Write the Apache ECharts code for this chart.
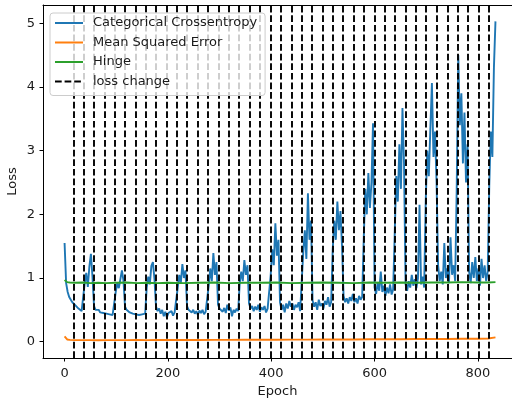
<!DOCTYPE html>
<html>
<head>
<meta charset="utf-8">
<script src="https://cdn.jsdelivr.net/npm/echarts@6/dist/echarts.min.js"></script>
<style>
  html, body { margin: 0; padding: 0; background: #fff; }
  #chart { width: 512px; height: 400px; }
</style>
</head>
<body>
<div id="chart"></div>
<script>
// Categorical crossentropy loss, one value every 3 epochs (epoch 0 .. 834)
const ccStep = 3;
const ccValues = [
  1.55, 0.92, 0.78, 0.70, 0.66, 0.62, 0.60, 0.57, 0.55, 0.52, 0.50, 0.48, 0.47,
  0.92, 1.08, 0.86, 1.18, 1.38, 1.02,
  0.56, 0.50, 0.47, 0.50, 0.46, 0.48, 0.45, 0.47, 0.44, 0.46, 0.43, 0.45, 0.42, 0.44,
  0.78, 0.92, 0.84, 0.98, 1.12, 0.96,
  0.55, 0.50, 0.52, 0.46, 0.49, 0.44, 0.47, 0.43, 0.46, 0.42, 0.45, 0.43, 0.46, 0.44,
  0.85, 1.02, 0.90, 1.19, 1.25, 0.98,
  0.55, 0.48, 0.52, 0.44, 0.50, 0.40, 0.47, 0.38, 0.45, 0.42, 0.48, 0.41, 0.46, 0.43,
  0.85, 1.05, 0.92, 1.22, 1.00, 1.12,
  0.56, 0.50, 0.53, 0.46, 0.50, 0.44, 0.48, 0.42, 0.49, 0.45, 0.50, 0.43, 0.47, 0.44,
  0.88, 1.15, 0.95, 1.39, 1.05, 1.25,
  0.58, 0.52, 0.55, 0.47, 0.53, 0.45, 0.58, 0.49, 0.54, 0.40, 0.50, 0.46, 0.52, 0.48,
  0.92, 1.10, 0.95, 1.28, 1.05, 1.20,
  0.60, 0.52, 0.56, 0.48, 0.55, 0.50, 0.58, 0.47, 0.54, 0.50, 0.56, 0.46, 0.52, 0.49,
  1.05, 1.45, 1.20, 1.86, 1.35, 1.60,
  0.62, 0.50, 0.58, 0.46, 0.60, 0.52, 0.64, 0.55, 0.60, 0.50, 0.58, 0.54, 0.62, 0.48,
  0.95, 1.40, 1.75, 1.30, 2.33, 1.60, 1.90,
  0.65, 0.55, 0.62, 0.50, 0.66, 0.56, 0.60, 0.52, 0.64, 0.58, 0.70, 0.55, 0.62,
  1.45, 1.90, 1.60, 2.20, 1.75, 2.05, 1.50,
  0.72, 0.62, 0.68, 0.60, 0.70, 0.64, 0.75, 0.62, 0.68, 0.60, 0.72, 0.66, 0.70,
  1.60, 2.40, 2.00, 2.65, 2.10, 2.50, 3.43,
  0.85, 0.75, 0.92, 0.80, 1.10, 0.78, 0.88, 0.72, 0.85, 0.76, 0.90, 0.74, 0.82,
  1.70, 2.60, 2.20, 3.10, 2.40, 3.67, 2.80,
  0.90, 0.80, 0.95, 0.85, 1.05, 0.88, 0.98, 0.84, 1.00, 2.15, 0.90, 1.02, 0.85,
  2.20, 3.00, 2.60, 3.35, 4.06, 2.90, 3.30, 2.50,
  1.20, 0.95, 1.10, 0.90, 1.55, 1.00, 1.15, 0.92, 1.64, 1.05, 1.20, 0.95,
  2.40, 4.50, 3.40, 3.90, 2.80, 3.60, 2.50, 3.10,
  1.10, 0.92, 1.25, 1.00, 1.33, 0.95, 1.15, 0.88, 1.30, 1.00, 1.20, 0.95, 1.10,
  2.45, 3.30, 2.90, 4.30, 5.03
];

// Mean squared error and hinge loss, sampled at these epochs
const otherEpochs = [0, 2, 5, 10, 20, 35, 50, 65, 80, 100, 120, 140, 160, 180, 200, 230, 260, 290,
  320, 350, 380, 410, 440, 470, 500, 530, 560, 590, 620, 650, 680, 710, 740, 770, 800, 820, 834];
const mseValues = [0.085, 0.055, 0.035, 0.028, 0.025, 0.024, 0.025, 0.023, 0.024, 0.025, 0.024,
  0.026, 0.025, 0.027, 0.026, 0.028, 0.027, 0.029, 0.028, 0.030, 0.031, 0.030, 0.033, 0.032,
  0.034, 0.036, 0.035, 0.038, 0.040, 0.039, 0.042, 0.044, 0.043, 0.047, 0.046, 0.050, 0.068];
const hingeValues = [0.97, 0.945, 0.935, 0.93, 0.925, 0.93, 0.92, 0.925, 0.92, 0.925, 0.93, 0.92,
  0.925, 0.92, 0.925, 0.92, 0.925, 0.93, 0.92, 0.925, 0.925, 0.93, 0.92, 0.925, 0.93, 0.925,
  0.92, 0.93, 0.925, 0.93, 0.925, 0.93, 0.93, 0.935, 0.93, 0.93, 0.935];

// Epochs where the loss function was switched
const lossChanges = [17, 37, 57, 77, 97, 117, 137, 157, 177, 197, 217, 237, 258, 278, 298, 318,
  338, 358, 378, 399, 419, 439, 459, 479, 499, 519, 539, 560, 580, 600, 620, 640, 660, 680, 700,
  721, 741, 761, 781, 801, 821];

const xTicks = [0, 200, 400, 600, 800];
const yTicks = [0, 1, 2, 3, 4, 5];

const FONT = 'DejaVu Sans';
const LW = 1.9;
const DASH = [6.7, 2.9];

const ccData = ccValues.map((v, i) => [i * ccStep, v]);
const mseData = otherEpochs.map((e, i) => [e, mseValues[i]]);
const hingeData = otherEpochs.map((e, i) => [e, hingeValues[i]]);

const chart = echarts.init(document.getElementById('chart'), null, { renderer: 'canvas' });

const axisText = { color: '#1a1a1a', fontFamily: FONT, fontSize: 13 };

chart.setOption({
  animation: false,
  backgroundColor: '#ffffff',
  grid: { left: 43, right: 0, top: 5, bottom: 42, containLabel: false, outerBoundsMode: 'none' },
  legend: {
    orient: 'vertical',
    left: 50,
    top: 13,
    z: 50,
    zlevel: 1,
    padding: [3, 8, 7, 4],
    itemWidth: 28,
    itemHeight: 14,
    itemGap: 5.5,
    backgroundColor: 'rgba(255,255,255,0.8)',
    borderColor: '#cccccc',
    borderWidth: 1,
    borderRadius: 3,
    itemStyle: { opacity: 0 },
    textStyle: { color: '#1a1a1a', fontFamily: FONT, fontSize: 13, lineHeight: 14, padding: [0, 0, 0, 5] },
    data: ['Categorical Crossentropy', 'Mean Squared Error', 'Hinge', 'loss change']
  },
  xAxis: [
    {
      type: 'value',
      min: -41.75,
      max: 866,
      name: 'Epoch',
      nameLocation: 'middle',
      nameGap: 26,
      nameTextStyle: axisText,
      splitLine: { show: false },
      axisLine: { show: true, onZero: false, lineStyle: { color: '#000', width: 1 } },
      axisTick: { show: true, length: 3.5, customValues: xTicks, lineStyle: { color: '#000', width: 1 } },
      axisLabel: { customValues: xTicks, margin: 9, ...axisText }
    },
    {
      type: 'value',
      position: 'top',
      min: -41.75,
      max: 866,
      splitLine: { show: false },
      axisLine: { show: true, onZero: false, lineStyle: { color: '#000', width: 1 } },
      axisTick: { show: false },
      axisLabel: { show: false }
    }
  ],
  yAxis: {
    type: 'value',
    min: -0.256,
    max: 5.287,
    name: 'Loss',
    nameLocation: 'middle',
    nameGap: 24,
    nameMoveOverlap: false,
    nameTextStyle: axisText,
    splitLine: { show: false },
    axisLine: { show: true, onZero: false, lineStyle: { color: '#000', width: 1 } },
    axisTick: { show: true, length: 3.5, customValues: yTicks, lineStyle: { color: '#000', width: 1 } },
    axisLabel: { customValues: yTicks, margin: 8, ...axisText }
  },
  series: [
    {
      name: 'Categorical Crossentropy',
      type: 'line',
      data: ccData,
      symbol: 'none',
      lineStyle: { color: '#1f77b4', width: LW },
      itemStyle: { color: '#1f77b4' }
    },
    {
      name: 'Mean Squared Error',
      type: 'line',
      data: mseData,
      symbol: 'none',
      lineStyle: { color: '#ff7f0e', width: LW },
      itemStyle: { color: '#ff7f0e' }
    },
    {
      name: 'Hinge',
      type: 'line',
      data: hingeData,
      symbol: 'none',
      lineStyle: { color: '#2ca02c', width: LW },
      itemStyle: { color: '#2ca02c' }
    },
    {
      name: 'loss change',
      type: 'line',
      data: [],
      symbol: 'none',
      lineStyle: { color: '#000', width: LW, type: DASH },
      itemStyle: { color: '#000' },
      markLine: {
        silent: true,
        symbol: ['none', 'none'],
        label: { show: false },
        lineStyle: { color: '#000', width: LW, type: DASH },
        emphasis: { disabled: true },
        data: lossChanges.map(e => ({ xAxis: e }))
      }
    }
  ]
});
</script>
</body>
</html>
